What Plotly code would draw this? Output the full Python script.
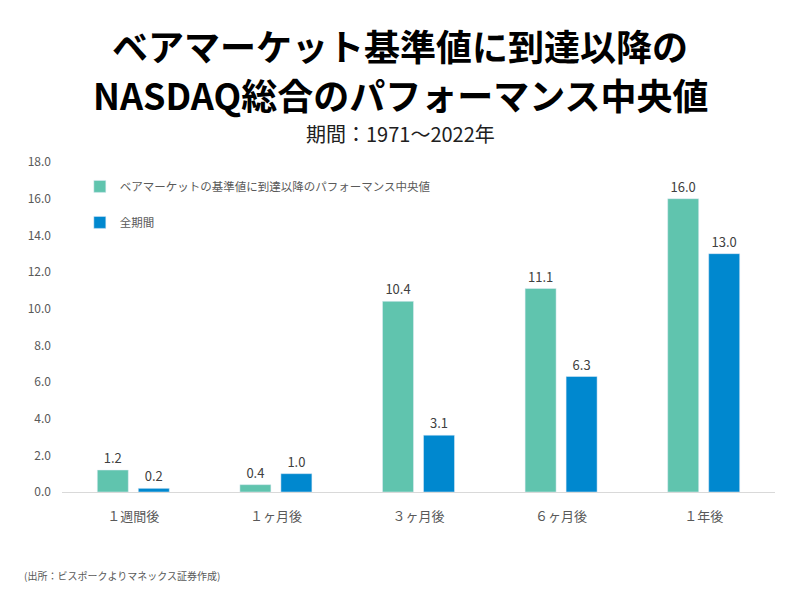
import plotly.graph_objects as go

categories = ["１週間後", "１ヶ月後", "３ヶ月後", "６ヶ月後", "１年後"]
bear_values = [1.2, 0.4, 10.4, 11.1, 16.0]
all_values = [0.2, 1.0, 3.1, 6.3, 13.0]
series_names = ["ベアマーケットの基準値に到達以降のパフォーマンス中央値", "全期間"]
y_ticks = [0, 2, 4, 6, 8, 10, 12, 14, 16, 18]

FONT = "Noto Sans CJK JP"
GREEN = "#60C4AE"
BLUE = "#0088CF"
GRAY = "#595959"

OFF = 8  # page body offset
W, H = 800, 597
L, T, R, B = 62 - OFF, 162 - OFF, 25 + OFF, 105 + OFF

fig = go.Figure()
fig.add_trace(go.Bar(
    x=categories, y=bear_values, name=series_names[0], marker_color=GREEN,
    text=[f"{v:.1f}" for v in bear_values], textposition="outside",
    textfont=dict(size=13, color="#404040", family=FONT), cliponaxis=False,
    legendgroup="a",
))
fig.add_trace(go.Bar(
    x=categories, y=all_values, name=series_names[1], marker_color=BLUE,
    text=[f"{v:.1f}" for v in all_values], textposition="outside",
    textfont=dict(size=13, color="#404040", family=FONT), cliponaxis=False,
    legendgroup="b",
))

plot_h = H - T - B
plot_w = W - L - R


def px_to_paper(xp, yp):
    # xp, yp: pixel coordinates in the screenshot
    return (xp - OFF - L) / plot_w, (H - B - (yp - OFF)) / plot_h


annots = []
for text, xp, yp, size, color, anchor in [
    ("<b>ベアマーケット基準値に到達以降の</b>", 400, 45, 36, "black", "center"),
    ("<b>NASDAQ総合のパフォーマンス中央値</b>", 400, 94, 36, "black", "center"),
    ("期間：1971～2022年", 400, 133, 20, "#202020", "center"),
    ("(出所：ビスポークよりマネックス証券作成)", 22, 575, 10, GRAY, "left"),
]:
    x, y = px_to_paper(xp, yp)
    annots.append(dict(text=text, x=x, y=y, xref="paper", yref="paper",
                       showarrow=False, xanchor=anchor, yanchor="middle",
                       font=dict(size=size, color=color, family=FONT)))

fig.update_layout(
    width=W, height=H,
    paper_bgcolor="white", plot_bgcolor="white",
    margin=dict(l=L, r=R, t=T, b=B),
    barmode="group", bargap=0.425, bargroupgap=0.244,
    font=dict(family=FONT, color=GRAY),
    showlegend=True,
    legend=dict(x=0.025, y=0.97, xanchor="left", yanchor="top",
                font=dict(size=11.5, color=GRAY, family=FONT),
                bgcolor="rgba(0,0,0,0)", tracegroupgap=17, itemwidth=30),
    xaxis=dict(showline=True, linecolor="#D9D9D9", linewidth=1,
               tickfont=dict(size=13, color=GRAY, family=FONT),
               ticks="", showgrid=False, ticklabelstandoff=12),
    yaxis=dict(range=[0, 18], tickvals=y_ticks, tickformat=".1f",
               showgrid=False, zeroline=False, showline=False,
               tickfont=dict(size=12, color=GRAY, family=FONT), ticklabelstandoff=10),
    annotations=annots,
)

fig.write_html("out.html")
